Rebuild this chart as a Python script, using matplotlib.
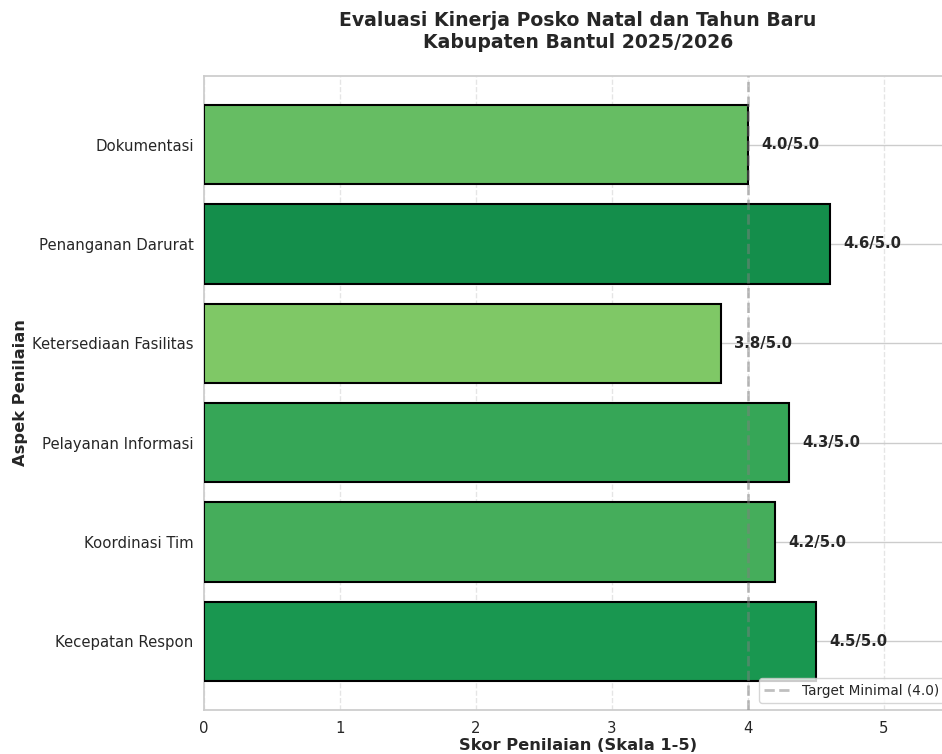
import matplotlib
matplotlib.use("Agg")
import matplotlib.pyplot as plt
import seaborn as sns
import numpy as np

sns.set_theme(style="whitegrid")
plt.rcParams['font.family'] = ['DejaVu Sans']

categories = ["Kecepatan Respon", "Koordinasi Tim", "Pelayanan Informasi",
              "Ketersediaan Fasilitas", "Penanganan Darurat", "Dokumentasi"]
scores = [4.5, 4.2, 4.3, 3.8, 4.6, 4.0]
max_score = 5.0
target = 4.0

fig = plt.figure(figsize=(9.42, 7.54), dpi=100)
ax = fig.add_axes([204/942, 44/754, 748/942, 634/754])

colors = plt.cm.RdYlGn(np.array(scores) / max_score)
ypos = np.arange(len(categories))
ax.barh(ypos, scores, height=0.8, color=colors, edgecolor='black', linewidth=1.5, zorder=3)

for y, s in zip(ypos, scores):
    ax.text(s + 0.1, y, f"{s:.1f}/{max_score:.1f}", va='center', ha='left',
            fontsize=10.7, fontweight='bold', color='#262626', zorder=4)

ax.axvline(target, color='gray', linestyle='--', linewidth=2, alpha=0.5,
           label=f"Target Minimal ({target:.1f})", zorder=5)

ax.set_yticks(ypos)
ax.set_yticklabels(categories, fontsize=10.7)
ax.set_xlim(0, 5.5)
ax.set_xticks([0, 1, 2, 3, 4, 5])
ax.tick_params(axis='x', labelsize=10.7, pad=2)
ax.tick_params(axis='y', pad=1.5)
ax.grid(axis='x', linestyle='--', alpha=0.5)
ax.grid(axis='y', linestyle='-', alpha=1.0)

ax.set_xlabel("Skor Penilaian (Skala 1-5)", fontsize=11.7, fontweight='bold', labelpad=1)
ax.set_ylabel("Aspek Penilaian", fontsize=11.7, fontweight='bold', labelpad=3)
ax.set_title("Evaluasi Kinerja Posko Natal dan Tahun Baru\nKabupaten Bantul 2025/2026",
             fontsize=13.6, fontweight='bold', pad=20)
ax.legend(loc='lower right', fontsize=9.8)

fig.savefig("out.png", dpi=100)
